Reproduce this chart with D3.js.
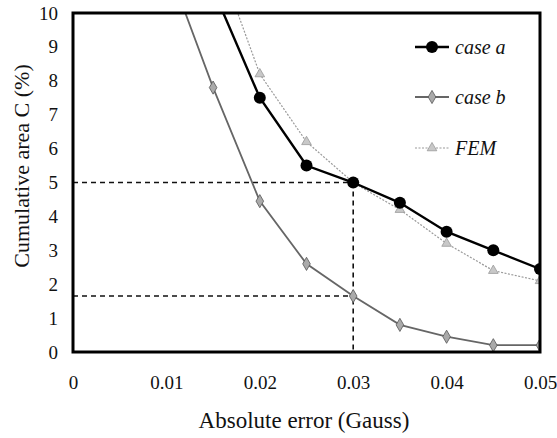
<!DOCTYPE html>
<html><head><meta charset="utf-8">
<script src="https://cdn.jsdelivr.net/npm/d3@7"></script>
<style>body{margin:0;background:#fff}svg{display:block}
svg text{font-family:"Liberation Serif","Tinos","Times New Roman","DejaVu Serif",serif;}</style>
</head><body>
<svg id="c" width="557" height="438"></svg>
<script>
const xValuesA = [0.015, 0.02, 0.025, 0.03, 0.035, 0.04, 0.045, 0.05];
const caseA    = [10.7, 7.5, 5.5, 5.0, 4.4, 3.55, 3.0, 2.45];
const xValuesB = [0.01, 0.015, 0.02, 0.025, 0.03, 0.035, 0.04, 0.045, 0.05];
const caseB    = [11.5, 7.8, 4.45, 2.6, 1.65, 0.8, 0.45, 0.2, 0.2];
const xValuesF = [0.015, 0.02, 0.025, 0.03, 0.035, 0.04, 0.045, 0.05];
const fem      = [12.0, 8.2, 6.2, 5.0, 4.2, 3.2, 2.4, 2.1];
const xTicks = [0, 0.01, 0.02, 0.03, 0.04, 0.05];
const yTicks = [0,1,2,3,4,5,6,7,8,9,10];
const refX = 0.03, refYA = 5.0, refYB = 1.65;
const seriesNames = ["case a", "case b", "FEM"];

const svg = d3.select("#c");
const m = {l:73, t:13, r:540, b:352};
const x = d3.scaleLinear().domain([0,0.05]).range([m.l, m.r]);
const y = d3.scaleLinear().domain([0,10]).range([m.b, m.t]);

svg.append("defs").append("clipPath").attr("id","clip")
  .append("rect").attr("x",m.l).attr("y",m.t).attr("width",m.r-m.l).attr("height",m.b-m.t);

const xa = svg.append("g").attr("transform",`translate(0,${m.b})`)
  .call(d3.axisBottom(x).tickValues(xTicks).tickFormat(d=>d===0?"0":d3.format(".2f")(d)).tickSize(0).tickPadding(24));
const ya = svg.append("g").attr("transform",`translate(${m.l},0)`)
  .call(d3.axisLeft(y).tickValues(yTicks).tickFormat(d3.format("d")).tickSize(0).tickPadding(15));
[xa,ya].forEach(a=>{a.select(".domain").remove(); a.selectAll("text").attr("font-family",null).attr("font-size",19).attr("fill","#111");});
xa.attr("font-family",null); ya.attr("font-family",null);

const dash = svg.append("g").attr("stroke","#111").attr("stroke-width",1.6).attr("stroke-dasharray","5,4").attr("fill","none");
dash.append("line").attr("x1",x(0)).attr("x2",x(refX)).attr("y1",y(refYA)).attr("y2",y(refYA));
dash.append("line").attr("x1",x(0)).attr("x2",x(refX)).attr("y1",y(refYB)).attr("y2",y(refYB));
dash.append("line").attr("x1",x(refX)).attr("x2",x(refX)).attr("y1",y(refYA)).attr("y2",y(0));

const plot = svg.append("g").attr("clip-path","url(#clip)");
const line = d3.line().x(d=>x(d[0])).y(d=>y(d[1]));
const dA = xValuesA.map((v,i)=>[v,caseA[i]]);
const dB = xValuesB.map((v,i)=>[v,caseB[i]]);
const dF = xValuesF.map((v,i)=>[v,fem[i]]);

plot.append("path").datum(dF).attr("d",line).attr("fill","none").attr("stroke","#999").attr("stroke-width",1.2).attr("stroke-dasharray","2,1.5");
const tri = d3.symbol().type(d3.symbolTriangle).size(40);
plot.selectAll(".f").data(dF.filter(d=>d[1]<=10)).join("path").attr("d",tri)
  .attr("transform",d=>`translate(${x(d[0])},${y(d[1])})`).attr("fill","#c8c8c8").attr("stroke","#999").attr("stroke-width",0.8);
plot.append("path").datum(dB).attr("d",line).attr("fill","none").attr("stroke","#666").attr("stroke-width",1.8);
const dia = d3.symbol().type(d3.symbolDiamond).size(50);
plot.selectAll(".b").data(dB.filter(d=>d[1]<=10)).join("path").attr("d",dia)
  .attr("transform",d=>`translate(${x(d[0])},${y(d[1])})`).attr("fill","#aaa").attr("stroke","#555").attr("stroke-width",0.8);
plot.append("path").datum(dA).attr("d",line).attr("fill","none").attr("stroke","#000").attr("stroke-width",2.4);
plot.selectAll(".a").data(dA.filter(d=>d[1]<=10)).join("circle")
  .attr("cx",d=>x(d[0])).attr("cy",d=>y(d[1])).attr("r",6).attr("fill","#000");

svg.append("rect").attr("x",m.l).attr("y",m.t).attr("width",m.r-m.l).attr("height",m.b-m.t)
  .attr("fill","none").attr("stroke","#000").attr("stroke-width",3);

const lg = svg.append("g");
const ly = [47, 97, 148];
const lx0 = 415, lx1 = 449;
lg.append("line").attr("x1",lx0).attr("x2",lx1).attr("y1",ly[0]).attr("y2",ly[0]).attr("stroke","#000").attr("stroke-width",2.4);
lg.append("circle").attr("cx",(lx0+lx1)/2).attr("cy",ly[0]).attr("r",6).attr("fill","#000");
lg.append("line").attr("x1",lx0).attr("x2",lx1).attr("y1",ly[1]).attr("y2",ly[1]).attr("stroke","#666").attr("stroke-width",1.8);
lg.append("path").attr("d",dia).attr("transform",`translate(${(lx0+lx1)/2},${ly[1]})`).attr("fill","#aaa").attr("stroke","#555").attr("stroke-width",0.8);
lg.append("line").attr("x1",lx0).attr("x2",lx1).attr("y1",ly[2]).attr("y2",ly[2]).attr("stroke","#999").attr("stroke-width",1.2).attr("stroke-dasharray","2,1.5");
lg.append("path").attr("d",tri).attr("transform",`translate(${(lx0+lx1)/2},${ly[2]})`).attr("fill","#c8c8c8").attr("stroke","#999").attr("stroke-width",0.8);
lg.selectAll("text").data(seriesNames).join("text").attr("x",455).attr("y",(d,i)=>ly[i]+7)
  .attr("font-style","italic").attr("font-size",20).attr("fill","#111").text(d=>d);

svg.append("text").attr("x",304).attr("y",428).attr("text-anchor","middle")
  .attr("font-size",23).attr("fill","#111").text("Absolute error (Gauss)");
svg.append("text").attr("transform",`translate(29,166) rotate(-90)`).attr("text-anchor","middle")
  .attr("font-size",22).attr("fill","#111").text("Cumulative area C (%)");
</script>
</body></html>
